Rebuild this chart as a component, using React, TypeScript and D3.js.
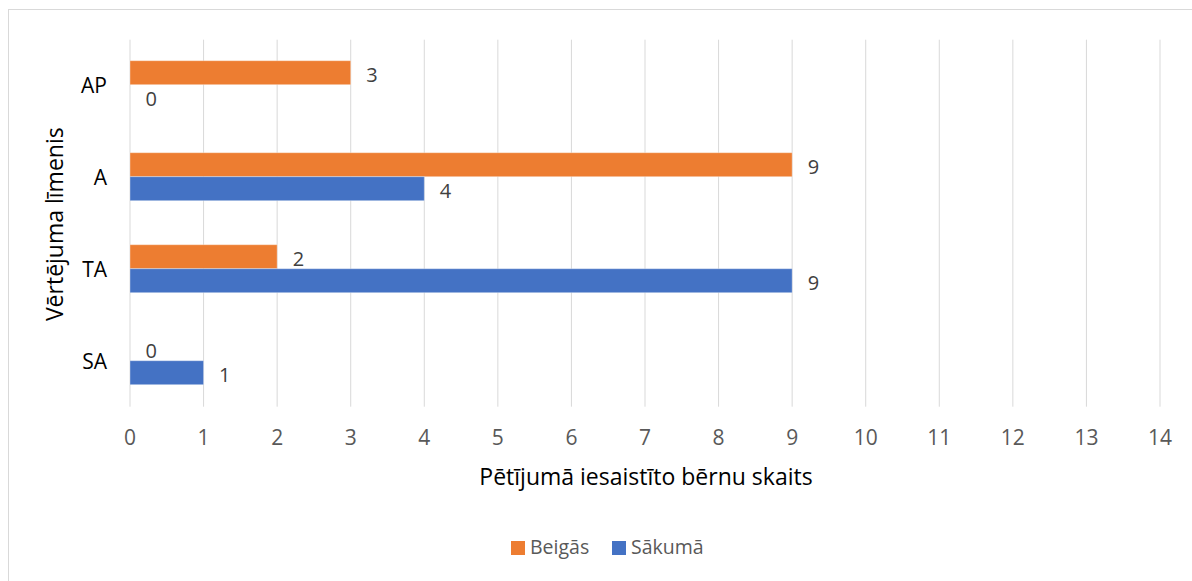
import React from 'react'
import * as d3 from 'd3'

// chart values
const categories = ['AP', 'A', 'TA', 'SA']
const seriesNames = ['Beigās', 'Sākumā']
const beigas = [3, 9, 2, 0]
const sakuma = [0, 4, 9, 1]
const xTicks = [0, 1, 2, 3, 4, 5, 6, 7, 8, 9, 10, 11, 12, 13, 14]
const colors = ['#ED7D31', '#4472C4']

const W = 1192
const H = 581
const FONT = '"Open Sans", sans-serif'

export default function App() {
  // plot area
  const left = 130
  const right = 1160
  const top = 38.7
  const bottom = 406.7

  const x = d3.scaleLinear().domain([0, 14]).range([left, right])
  const y = d3.scaleBand().domain(categories).range([top, bottom]).paddingInner(0.4783).paddingOuter(0.2391)
  const inner = d3.scaleBand().domain(seriesNames).range([0, y.bandwidth()])

  const series = [beigas, sakuma]

  return (
    <svg width={W} height={H} style={{ position: 'absolute', left: 0, top: 0, background: '#fff' }}>
      {/* chart border */}
      <rect x={8.5} y={9.5} width={W + 10} height={H + 10} fill="#fff" stroke="#d9d9d9" strokeWidth={1} />

      {/* gridlines */}
      {xTicks.map((t) => (
        <line key={t} x1={x(t)} x2={x(t)} y1={top + 1} y2={bottom} stroke="#d9d9d9" strokeWidth={1} />
      ))}

      {/* bars */}
      {series.map((vals, si) =>
        categories.map((c, ci) => {
          const by = (y(c) as number) + (inner(seriesNames[si]) as number)
          const bh = inner.bandwidth()
          const w = x(vals[ci]) - x(0)
          return (
            <g key={si + '-' + c}>
              {w > 0 && (
                <rect x={x(0)} y={by} width={w} height={bh} fill={colors[si]} stroke="#fff" strokeOpacity={0.35} strokeWidth={1} />
              )}
              <text x={x(vals[ci]) + 15.5} y={by + bh / 2 + 9} fontFamily={FONT} fontSize={20} fill="#404040">
                {vals[ci]}
              </text>
            </g>
          )
        })
      )}

      {/* x tick labels */}
      {xTicks.map((t) => (
        <text key={t} x={x(t)} y={445} textAnchor="middle" fontFamily={FONT} fontSize={21} fill="#595959">
          {t}
        </text>
      ))}

      {/* category labels */}
      {categories.map((c) => (
        <text
          key={c}
          x={107}
          y={(y(c) as number) + y.bandwidth() / 2 + 8.5}
          textAnchor="end"
          fontFamily={FONT}
          fontSize={21}
          fill="#000"
        >
          {c}
        </text>
      ))}

      {/* axis titles */}
      <text x={646} y={485} textAnchor="middle" fontFamily={FONT} fontSize={23} fill="#000">
        Pētījumā iesaistīto bērnu skaits
      </text>
      <text
        transform={'translate(63,' + ((top + bottom) / 2 + 1.5) + ') rotate(-90)'}
        textAnchor="middle"
        fontFamily={FONT}
        fontSize={23}
        fill="#000"
      >
        Vērtējuma līmenis
      </text>

      {/* legend */}
      {seriesNames.map((s, i) => {
        const lx = i === 0 ? 511 : 612
        return (
          <g key={s}>
            <rect x={lx} y={541} width={14} height={14} fill={colors[i]} />
            <text x={lx + 19} y={553.5} fontFamily={FONT} fontSize={19.5} fill="#595959">
              {s}
            </text>
          </g>
        )
      })}
    </svg>
  )
}
